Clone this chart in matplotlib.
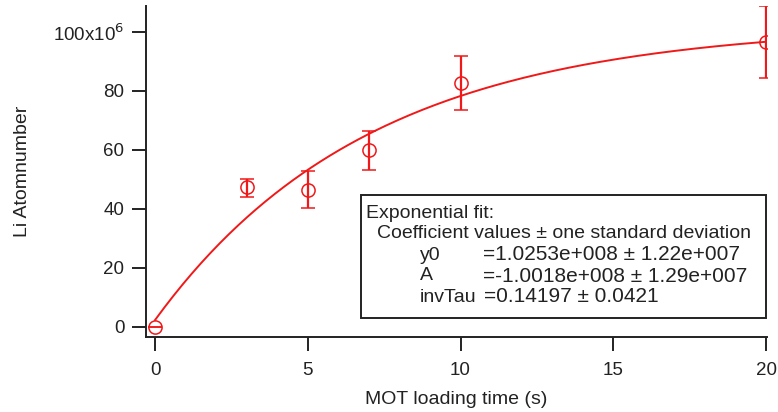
import numpy as np
import matplotlib
matplotlib.use("Agg")
import matplotlib.pyplot as plt
from matplotlib.patches import Rectangle

# measured data (atom number in units of 1e6)
load_time = [0, 3, 5, 7, 10, 20]
atoms = [0.0, 47.5, 46.4, 60.0, 82.7, 96.6]
err_low = [0.0, 3.4, 6.1, 6.8, 9.1, 12.2]
err_high = [0.0, 2.7, 6.5, 6.4, 9.2, 12.2]

# fit coefficients from the box (in units of 1e6)
y0 = 102.53
A = -100.18
invTau = 0.14197

plt.rcParams['font.family'] = ['Liberation Sans', 'DejaVu Sans']
red = '#f01818'
ink = '#222222'

W, H = 778.0, 412.0
fig = plt.figure(figsize=(7.78, 4.12), dpi=100)
ax = fig.add_axes([146/W, 1 - 337/H, (767 - 146)/W, (337 - 6)/H])

tfit = np.linspace(0, 20, 200)
ax.plot(tfit, y0 + A*np.exp(-invTau*tfit), color=red, lw=1.4)
ax.errorbar(load_time, atoms, yerr=[err_low, err_high], fmt='o', mfc='none',
            mec=red, ecolor=red, ms=9.5, mew=1.1, elinewidth=1.6,
            capsize=4.7, capthick=1.6)

ax.set_xlim(-0.295, 20.03)
ax.set_ylim(-3.39, 108.8)
ax.set_xticks([0, 5, 10, 15, 20])
ax.set_yticks([0, 20, 40, 60, 80, 100])
ax.set_yticklabels(['0', '20', '40', '60', '80', '100x10$^{6}$'])
for s in ['top', 'right']:
    ax.spines[s].set_visible(False)
for s in ['left', 'bottom']:
    ax.spines[s].set_linewidth(1.4)
    ax.spines[s].set_color(ink)
ax.tick_params(axis='x', direction='out', length=10, width=1.4, labelsize=13.5,
               pad=8, colors=ink)
ax.tick_params(axis='y', direction='out', length=10, width=1.4, labelsize=13.5,
               pad=5.5, colors=ink)
ax.set_xlabel('MOT loading time (s)', fontsize=14, labelpad=9, color=ink)
ax.set_ylabel('Li Atomnumber', fontsize=14, labelpad=16, color=ink)

# fit result box
fig.patches.append(Rectangle((361/W, 1 - 318/H), (766 - 361)/W, (318 - 195)/H,
                             transform=fig.transFigure, fill=False,
                             lw=1.4, ec=ink))
def put(x, y, s, fs=14):
    fig.text(x/W, 1 - y/H, s, fontsize=fs, va='center', ha='left', color=ink)

put(366, 213, 'Exponential fit:')
put(377, 234, 'Coefficient values \u00b1 one standard deviation')
put(420, 255, 'y0')
put(483, 255, '=1.0253e+008 \u00b1 1.22e+007', 15)
put(420, 276, 'A')
put(483, 276, '=-1.0018e+008 \u00b1 1.29e+007', 15)
put(420, 297, 'invTau')
put(484, 297, '=0.14197 \u00b1 0.0421', 15)

fig.savefig('out.png', dpi=100)
